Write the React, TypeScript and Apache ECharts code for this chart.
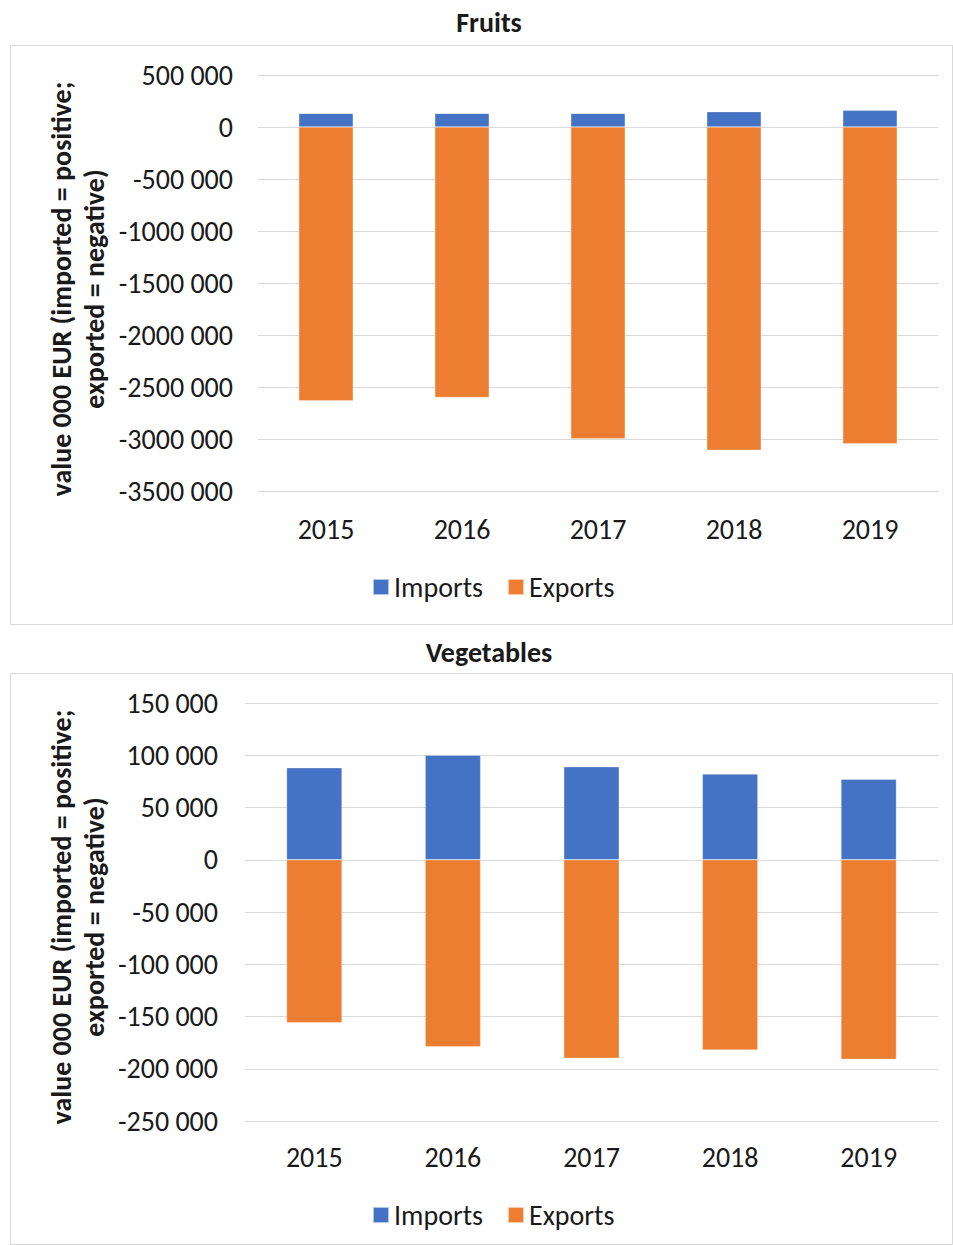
import React, { useEffect, useRef } from "react";
import * as echarts from "echarts";

const years = ["2015", "2016", "2017", "2018", "2019"];
const fruitImports = [131000, 131000, 131000, 147000, 160000];
const fruitExports = [-2632000, -2600000, -2998000, -3107000, -3046000];
const vegImports = [88000, 100000, 89000, 82000, 77000];
const vegExports = [-156000, -179000, -190000, -182000, -191000];
const seriesNames = ["Imports", "Exports"];
const axisTitle = "value 000 EUR (imported = positive;\nexported = negative)";

const FONT = "Carlito, Calibri, Roboto, sans-serif";
const BLUE = "#4472C4";
const ORANGE = "#ED7D31";
const GRID = "#d9d9d9";
const TEXT = "#1a1a1a";
const FS = 28;

function fmt(v: number): string {
  if (v === 0) return "0";
  const sign = v < 0 ? "-" : "";
  const a = Math.abs(v);
  const th = Math.floor(a / 1000);
  const rest = String(a % 1000).padStart(3, "0");
  return sign + th + " " + rest;
}

export default function App() {
  const ref = useRef<HTMLDivElement>(null);
  useEffect(() => {
    if (!ref.current) return;
    const chart = echarts.init(ref.current, null, { renderer: "svg" });
    const xAxisBase = (gridIndex: number, margin: number) => ({
      type: "category" as const,
      gridIndex,
      data: years,
      axisLine: { show: false },
      axisTick: { show: false },
      axisLabel: { color: TEXT, fontSize: FS, fontFamily: FONT, margin },
    });
    const yAxisBase = (gridIndex: number, min: number, max: number, interval: number, margin: number) => ({
      type: "value" as const,
      gridIndex,
      min,
      max,
      interval,
      axisLine: { show: false },
      axisTick: { show: false },
      splitLine: { lineStyle: { color: GRID, width: 1 } },
      axisLabel: { color: TEXT, fontSize: FS, fontFamily: FONT, margin, formatter: fmt },
    });
    const barBase = {
      type: "bar" as const,
      barWidth: "40%",
      itemStyle: { borderColor: "rgba(255,255,255,0.6)", borderWidth: 0.5 },
    };
    const legendBase = {
      data: seriesNames,
      left: 367,
      itemWidth: 16,
      itemHeight: 16,
      itemGap: 24,
      icon: "rect",
      textStyle: { color: TEXT, fontSize: FS, fontFamily: FONT },
    };
    chart.setOption({
      animation: false,
      backgroundColor: "#fff",
      grid: [
        { left: 258, right: 15, top: 75, height: 416 },
        { left: 245, right: 15, top: 703, height: 418 },
      ],
      xAxis: [xAxisBase(0, 24), xAxisBase(1, 22)],
      yAxis: [
        yAxisBase(0, -3500000, 500000, 500000, 25),
        yAxisBase(1, -250000, 150000, 50000, 27),
      ],
      legend: [
        { ...legendBase, top: 568 },
        { ...legendBase, top: 1196 },
      ],
      series: [
        { ...barBase, name: seriesNames[0], xAxisIndex: 0, yAxisIndex: 0, stack: "f", data: fruitImports, itemStyle: { ...barBase.itemStyle, color: BLUE } },
        { ...barBase, name: seriesNames[1], xAxisIndex: 0, yAxisIndex: 0, stack: "f", data: fruitExports, itemStyle: { ...barBase.itemStyle, color: ORANGE } },
        { ...barBase, name: seriesNames[0], xAxisIndex: 1, yAxisIndex: 1, stack: "v", data: vegImports, itemStyle: { ...barBase.itemStyle, color: BLUE } },
        { ...barBase, name: seriesNames[1], xAxisIndex: 1, yAxisIndex: 1, stack: "v", data: vegExports, itemStyle: { ...barBase.itemStyle, color: ORANGE } },
      ],
      graphic: [
        { type: "rect", z: -1, shape: { x: 10.5, y: 45.5, width: 942, height: 579 }, style: { fill: "none", stroke: GRID, lineWidth: 1 } },
        { type: "rect", z: -1, shape: { x: 10.5, y: 673.5, width: 942, height: 571 }, style: { fill: "none", stroke: GRID, lineWidth: 1 } },
        { type: "text", x: 489, y: 22, style: { text: "Fruits", textAlign: "center", textVerticalAlign: "middle", font: `bold ${FS}px ${FONT}`, fill: TEXT } },
        { type: "text", x: 489, y: 652, style: { text: "Vegetables", textAlign: "center", textVerticalAlign: "middle", font: `bold ${FS}px ${FONT}`, fill: TEXT } },
        { type: "text", x: 78, y: 289, rotation: Math.PI / 2, style: { text: axisTitle, textAlign: "center", textVerticalAlign: "middle", font: `bold ${FS}px ${FONT}`, lineHeight: 33, fill: TEXT } },
        { type: "text", x: 78, y: 917, rotation: Math.PI / 2, style: { text: axisTitle, textAlign: "center", textVerticalAlign: "middle", font: `bold ${FS}px ${FONT}`, lineHeight: 33, fill: TEXT } },
      ],
    });
    return () => chart.dispose();
  }, []);
  return (
    <div
      ref={ref}
      style={{ position: "absolute", left: 0, top: 0, width: 953, height: 1245 }}
    />
  );
}
